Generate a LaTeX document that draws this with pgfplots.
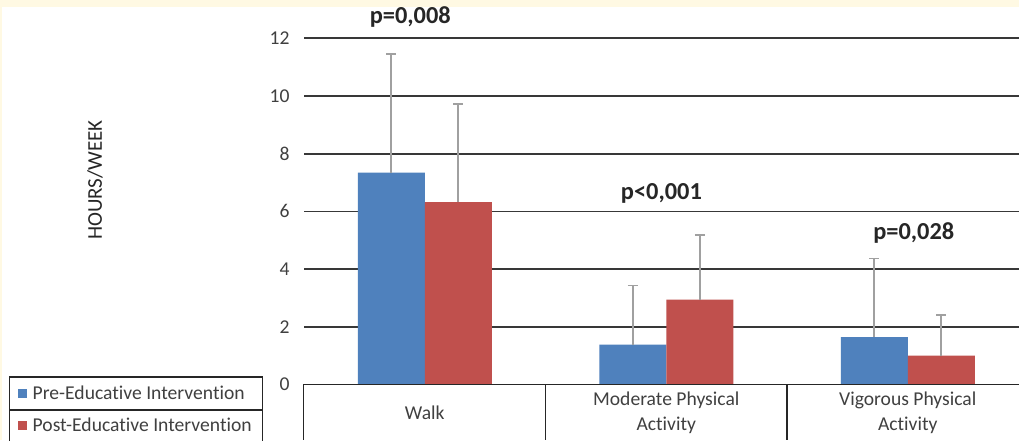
\documentclass[border=0pt]{standalone}
\usepackage{fontspec}
\setmainfont{Carlito}[Ligatures=NoCommon]
\usepackage{pgfplots}
\pgfplotsset{compat=1.18}
\definecolor{preblue}{HTML}{4F81BD}
\definecolor{postred}{HTML}{C0504D}
\definecolor{bandyellow}{HTML}{FFF9E3}
\definecolor{txt}{HTML}{404040}
\definecolor{errgray}{HTML}{A0A0A0}
\begin{document}
\begin{tikzpicture}
\path[use as bounding box] (0pt,0pt) rectangle (1019pt,440pt);
\fill[bandyellow] (0pt,0pt) rectangle (1019pt,440pt);
\fill[white] (2pt,0pt) rectangle (1019pt,433pt);
\begin{axis}[
  at={(304pt,55.5pt)}, anchor=south west,
  scale only axis, width=715pt, height=346.2pt,
  xmin=-0.5, xmax=2.4607, ymin=0, ymax=12,
  clip=false,
  axis line style={draw=none},
  xtick=\empty,
  ytick={0,2,...,12},
  major tick length=0pt,
  ymajorgrids,
  grid style={line width=1.6pt, black!78},
  /pgf/number format/assume math mode=true,
  yticklabel style={font=\fontsize{19.6}{22}\selectfont, text=txt, xshift=-11pt},
  ybar=0pt, bar width=67pt,
]
\addplot+[fill=preblue, draw=none,
  error bars/.cd, y dir=plus, y explicit,
  error bar style={line width=1.8pt, errgray},
  error mark options={rotate=90, mark size=5pt, line width=1.8pt, errgray}]
  coordinates {(0,7.34) +- (0,4.11) (1,1.38) +- (0,2.05) (2,1.64) +- (0,2.73)};
\addplot+[fill=postred, draw=none,
  error bars/.cd, y dir=plus, y explicit,
  error bar style={line width=1.8pt, errgray},
  error mark options={rotate=90, mark size=5pt, line width=1.8pt, errgray}]
  coordinates {(0,6.32) +- (0,3.40) (1,2.94) +- (0,2.25) (2,1.00) +- (0,1.40)};
\node[font=\fontsize{24.4}{28}\selectfont\bfseries, text=black!85] at (axis cs:-0.06,12.74) {p=0,008};
\node[font=\fontsize{24.4}{28}\selectfont\bfseries, text=black!85] at (axis cs:0.98,6.64) {p<0,001};
\node[font=\fontsize{24.4}{28}\selectfont\bfseries, text=black!85] at (axis cs:2.025,5.25) {p=0,028};
\end{axis}
% data table under the axis
\draw[line width=1.6pt, black!85] (303pt,55.5pt) -- (1019pt,55.5pt);
\draw[line width=1.6pt, black!85] (303.5pt,55.5pt) -- (303.5pt,0pt);
\draw[line width=1.6pt, black!85] (545.5pt,55.5pt) -- (545.5pt,0pt);
\draw[line width=1.6pt, black!85] (787pt,55.5pt) -- (787pt,0pt);
\begin{scope}[font=\fontsize{19.6}{25}\selectfont, text=txt]
\node at (424.75pt,27.5pt) {Walk};
\node[align=center] at (666.25pt,27.5pt) {Moderate Physical\\Activity};
\node[align=center] at (907.75pt,27.5pt) {Vigorous Physical\\Activity};
\end{scope}
% legend
\draw[line width=1.6pt, black!85] (9.5pt,-2pt) -- (9.5pt,63pt) -- (262.5pt,63pt) -- (262.5pt,-2pt);
\draw[line width=1.6pt, black!85] (9.5pt,30pt) -- (262.5pt,30pt);
\fill[preblue] (17.5pt,42.5pt) rectangle (26.5pt,51.5pt);
\fill[postred] (17.5pt,10.5pt) rectangle (26.5pt,19.5pt);
\begin{scope}[font=\fontsize{19.6}{22}\selectfont, text=txt]
\node[anchor=west, inner sep=0pt] at (32.5pt,47pt) {Pre-Educative Intervention};
\node[anchor=west, inner sep=0pt] at (32.5pt,15pt) {Post-Educative Intervention};
\end{scope}
\node[rotate=90, font=\fontsize{21}{24}\selectfont, text=black!85] at (95pt,260pt) {HOURS/WEEK};
\end{tikzpicture}
\end{document}
